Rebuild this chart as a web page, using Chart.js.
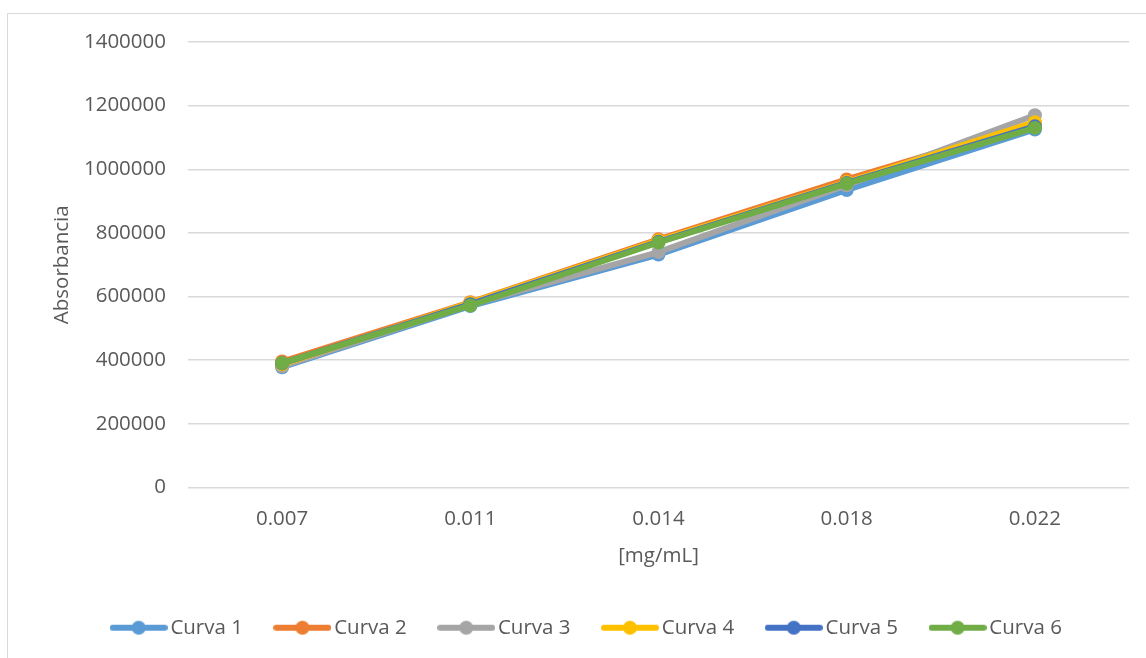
<!DOCTYPE html>
<html>
<head>
<meta charset="utf-8">
<script src="https://cdn.jsdelivr.net/npm/chart.js@4"></script>
<style>
  html, body { margin: 0; padding: 0; background: #fff; }
  #wrap { position: relative; width: 1146px; height: 658px; overflow: hidden; }
  #frame { position: absolute; left: 7px; top: 13px; width: 1200px; height: 700px;
           border: 1.5px solid #d9d9d9; box-sizing: border-box; }
  canvas { position: absolute; left: 0; top: 0; }
</style>
</head>
<body>
<div id="wrap">
  <div id="frame"></div>
  <canvas id="c" width="1146" height="658"></canvas>
</div>
<script>
// Concentrations (category axis)
const concentrations = ['0.007', '0.011', '0.014', '0.018', '0.022'];

// Calibration curves
const curva1 = [378000, 570000, 732000, 935000, 1125000];
const curva2 = [396000, 582000, 780000, 968000, 1145000];
const curva3 = [381000, 575000, 740000, 950000, 1170000];
const curva4 = [387000, 580000, 776000, 960000, 1148000];
const curva5 = [390000, 576000, 772000, 957000, 1135000];
const curva6 = [391000, 572000, 770000, 955000, 1130000];

const seriesNames = ['Curva 1', 'Curva 2', 'Curva 3', 'Curva 4', 'Curva 5', 'Curva 6'];
const seriesValues = [curva1, curva2, curva3, curva4, curva5, curva6];
const seriesColors = ['#5B9BD5', '#ED7D31', '#A5A5A5', '#FFC000', '#4472C4', '#70AD47'];

// Y axis range
const yMin = 0, yMax = 1400000, yStep = 200000;

const FONT = 'Open Sans';
const TXT = '#595959';

// legend swatch: a short thick line with a dot in the middle
function makeSwatch(color) {
  const cv = document.createElement('canvas');
  cv.width = 58; cv.height = 16;
  const g = cv.getContext('2d');
  g.strokeStyle = color; g.lineWidth = 6; g.lineCap = 'round';
  g.beginPath(); g.moveTo(3, 8); g.lineTo(55, 8); g.stroke();
  g.fillStyle = color;
  g.beginPath(); g.arc(29, 8, 7, 0, Math.PI * 2); g.fill();
  return cv;
}

const datasets = seriesNames.map((name, i) => ({
  label: name,
  data: seriesValues[i],
  borderColor: seriesColors[i],
  backgroundColor: seriesColors[i],
  borderWidth: 6,
  pointRadius: 7,
  pointHoverRadius: 7,
  pointBorderWidth: 0,
  tension: 0,
  order: seriesNames.length - 1 - i,
  swatch: makeSwatch(seriesColors[i])
}));

new Chart(document.getElementById('c'), {
  type: 'line',
  data: { labels: concentrations, datasets },
  options: {
    responsive: false,
    animation: false,
    layout: { padding: { left: 50, right: 17, top: 42, bottom: 10 } },
    plugins: {
      tooltip: { enabled: false },
      legend: {
        position: 'bottom',
        labels: {
          usePointStyle: true,
          pointStyleWidth: 43,
          boxHeight: 16,
          padding: 38,
          color: TXT,
          font: { family: FONT, size: 20.5 },
          sort: (a, b) => a.datasetIndex - b.datasetIndex,
          generateLabels: (chart) => chart.data.datasets.map((ds, i) => ({
            text: ds.label,
            fillStyle: ds.borderColor,
            strokeStyle: ds.borderColor,
            lineWidth: 0,
            pointStyle: ds.swatch,
            fontColor: TXT,
            hidden: false,
            datasetIndex: i
          }))
        }
      }
    },
    scales: {
      x: {
        offset: true,
        grid: { display: false, drawTicks: false },
        border: { display: false },
        ticks: { color: TXT, font: { family: FONT, size: 20.5 }, padding: 19 },
        title: { display: true, text: '[mg/mL]', color: TXT,
                 font: { family: FONT, size: 20.5 }, padding: { top: 8, bottom: 11 } },
        afterFit: (s) => { s.height = 92; }
      },
      y: {
        min: yMin, max: yMax,
        ticks: { stepSize: yStep, color: TXT, font: { family: FONT, size: 20.5 }, padding: 22,
                 callback: (v) => String(v) },
        grid: { color: '#d9d9d9', lineWidth: 1.5, drawTicks: false },
        border: { display: false },
        title: { display: true, text: 'Absorbancia', color: TXT,
                 font: { family: FONT, size: 20.5 }, padding: { top: 0, bottom: 0 } },
        afterFit: (s) => { s.width = 138; }
      }
    }
  }
});
</script>
</body>
</html>
